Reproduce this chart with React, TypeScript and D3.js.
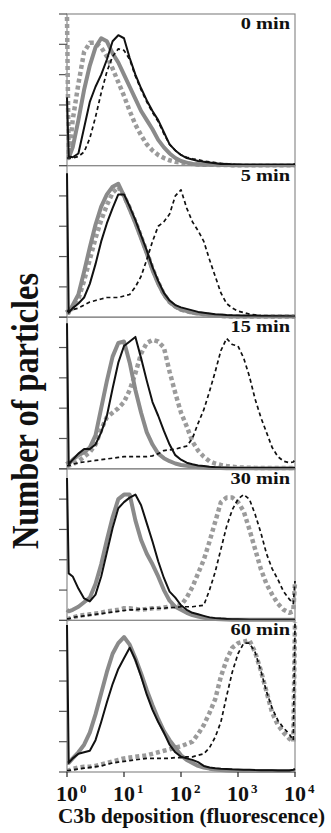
import React, { useEffect, useRef } from "react";
import * as d3 from "d3";

// log10 of fluorescence, sampled positions along the x axis
const logFluor = [0, 0.03, 0.1, 0.2, 0.3, 0.4, 0.5, 0.6, 0.7, 0.8, 0.9, 1.0, 1.1, 1.2, 1.3, 1.4, 1.5, 1.6, 1.7, 1.8, 1.9, 2.0, 2.1, 2.2, 2.3, 2.4, 2.5, 2.6, 2.7, 2.8, 2.9, 3.0, 3.1, 3.2, 3.3, 3.4, 3.5, 3.6, 3.7, 3.8, 3.9, 3.97, 4.0];

const panelLabels = ["0 min", "5 min", "15 min", "30 min", "60 min"];
const xTickExps = [0, 1, 2, 3, 4];
const yTicks = [0, 20, 40, 60, 80, 100];

// 0 min
const dotted0 = [98, 5, 30, 54, 75, 81, 81, 78, 72, 64, 55, 46, 36, 27, 20, 14, 10, 7, 5, 3.5, 2.5, 2, 1.5, 1, 0.8, 0.6, 0.5, 0.5, 0.4, 0.4, 0.3, 0.3, 0.3, 0.3, 0.3, 0.3, 0.3, 0.3, 0.3, 0.3, 0.3, 0.3, 0.3];
const grayLine0 = [5, 5, 12, 30, 50, 66, 78, 84, 82, 74, 68, 60, 52, 44, 36, 30, 24, 17, 12, 8, 5, 3, 2, 1, 0.8, 0.6, 0.5, 0.5, 0.4, 0.4, 0.3, 0.3, 0.3, 0.3, 0.3, 0.3, 0.3, 0.3, 0.3, 0.3, 0.3, 0.3, 0.3];
const blackLine0 = [45, 6, 5.5, 8, 25, 42, 52, 60, 70, 82, 86, 84, 71, 60, 51, 43, 36, 30, 22, 14, 10, 7, 5, 4, 3, 2.5, 2, 1.5, 1, 1, 0.8, 0.7, 0.6, 0.6, 0.5, 0.5, 0.5, 0.5, 0.5, 0.5, 0.5, 0.8, 1];
const dashed0 = [5, 5, 5, 6, 9, 18, 32, 48, 62, 72, 77, 76, 70, 59, 50, 42, 35, 29, 21, 14, 10, 7, 5.5, 4.5, 4, 3, 2.5, 2, 1.5, 1, 1, 0.5, 0.5, 0.5, 0.5, 0.5, 0.5, 0.5, 0.5, 0.5, 0.5, 0.5, 0.5];

// 5 min
const dotted5 = [5, 3, 6, 12, 24, 38, 52, 64, 74, 82, 86, 80, 72, 63, 53, 43, 32, 23, 15, 10, 7, 5, 4, 3, 2.5, 2, 1.5, 1, 0.8, 0.6, 0.5, 0.5, 0.4, 0.4, 0.4, 0.4, 0.4, 0.4, 0.4, 0.4, 0.4, 0.4, 0.4];
const grayLine5 = [5, 3, 8, 15, 30, 46, 61, 73, 81, 86, 88, 80, 71, 62, 52, 42, 31, 22, 15, 10, 7, 5, 4, 3, 2.5, 2, 1.5, 1, 0.8, 0.6, 0.5, 0.5, 0.4, 0.4, 0.4, 0.4, 0.4, 0.4, 0.4, 0.4, 0.4, 0.4, 0.4];
const blackLine5 = [95, 3, 6, 9, 13, 22, 35, 50, 62, 72, 81, 81, 73, 64, 54, 44, 33, 24, 16, 11, 8, 6.5, 5.5, 4.5, 3.5, 3, 2.5, 2, 1.8, 1.5, 1.3, 1.2, 1, 1, 0.9, 0.8, 0.8, 0.7, 0.6, 0.6, 0.5, 0.5, 0.5];
const dashed5 = [4, 4, 5, 6, 8, 10, 11, 12, 13, 13, 13, 14, 15, 20, 27, 38, 50, 60, 63, 68, 80, 84, 72, 63, 57, 50, 38, 27, 16, 9, 6, 4, 3, 2, 1.5, 1, 0.8, 0.6, 0.5, 0.5, 0.5, 0.5, 0.5];

// 15 min
const dotted15 = [2, 2, 3, 5, 8, 11, 16, 26, 34, 37, 40, 44, 52, 63, 76, 83, 85, 84, 80, 64, 50, 37, 28, 18, 12, 8, 5, 3.5, 2.5, 1.8, 1.3, 1, 0.8, 0.7, 0.6, 0.5, 0.5, 0.5, 0.5, 0.5, 0.5, 0.5, 0.5];
const grayLine15 = [5, 3, 6, 9, 11, 14, 22, 40, 58, 74, 83, 84, 70, 52, 37, 24, 16, 10, 7, 5, 3.5, 2.5, 2, 1.5, 1, 0.8, 0.6, 0.5, 0.5, 0.4, 0.4, 0.4, 0.4, 0.4, 0.4, 0.4, 0.4, 0.4, 0.4, 0.4, 0.4, 0.4, 0.4];
const blackLine15 = [96, 3, 6, 10, 13, 13, 16, 24, 35, 53, 70, 81, 84, 87, 73, 58, 44, 35, 25, 16, 9, 6, 4, 3, 2.2, 1.8, 1.3, 1, 0.8, 0.7, 0.6, 0.5, 0.5, 0.5, 0.5, 0.5, 0.5, 0.5, 0.5, 0.5, 0.5, 0.5, 0.5];
const dashed15 = [2, 2, 3, 4, 4.5, 5, 5.5, 6, 6.5, 7, 7.5, 8, 8, 8, 8, 8, 8.5, 10, 12, 12.5, 13, 14, 15, 20, 30, 39, 51, 64, 78, 86, 82, 81, 73, 61, 46, 34, 24, 14, 8, 5, 4, 4.5, 6];

// 30 min
const dotted30 = [1, 1, 2, 3, 3.5, 4, 4.5, 5, 6, 6.5, 7, 8, 8, 7.5, 7, 7.5, 8, 8, 8.5, 9, 9.5, 10, 15, 22, 31, 40, 52, 65, 78, 81, 81, 78, 72, 60, 47, 34, 24, 17, 11, 7, 5, 6, 25];
const grayLine30 = [7, 6, 7, 9, 12, 15, 24, 37, 53, 68, 80, 83, 83, 66, 53, 44, 37, 29, 20, 13, 9, 7, 5, 3.5, 2.5, 1.8, 1.2, 1, 0.8, 0.6, 0.5, 0.5, 0.4, 0.4, 0.4, 0.4, 0.4, 0.4, 0.4, 0.4, 0.4, 0.4, 0.4];
const blackLine30 = [94, 31, 29, 21, 14.5, 12.5, 17, 29, 45, 61, 74, 78, 81, 83, 76, 64, 52, 39, 28, 19, 15, 10, 7, 5, 4, 3, 2, 1.5, 1.2, 1, 0.8, 0.7, 0.6, 0.5, 0.5, 0.5, 0.5, 0.5, 0.5, 0.5, 0.5, 0.5, 0.5];
const dashed30 = [1, 1, 2, 2.5, 3, 3.5, 4, 4.5, 5, 5.5, 6, 6.5, 7, 7, 7.5, 7.5, 8, 8, 8, 8.5, 8.5, 9, 9, 9, 9.5, 10, 20, 32, 47, 62, 73, 80, 83, 80, 70, 58, 44, 34, 27, 19, 14, 11, 26];

// 60 min
const dotted60 = [1, 1, 2, 3, 3.5, 3.5, 4, 5, 6, 7, 8, 9, 9.5, 10, 10.5, 11, 12, 13, 14, 15, 16, 17, 18.5, 20, 25, 31, 39, 48, 63, 74, 82, 85, 86, 87, 79, 67, 53, 39, 31, 26, 22, 20, 99];
const grayLine60 = [6, 6, 9, 13, 18, 26, 38, 52, 66, 78, 85, 89, 84, 75, 65, 54, 44, 35, 27, 21, 16, 11, 8, 6, 4, 3, 2.2, 1.7, 1.3, 1, 0.8, 0.7, 0.6, 0.6, 0.6, 0.6, 0.6, 0.6, 0.6, 0.6, 0.6, 0.6, 0.6];
const blackLine60 = [97, 6, 9, 12, 13, 14, 21, 33, 46, 58, 68, 75, 82, 74, 63, 51, 41, 33, 26, 18, 13, 10, 9, 8, 6.5, 4, 3, 2.5, 2.2, 2, 1.8, 1.7, 1.5, 1.5, 1.3, 1.2, 1.2, 1.1, 1, 1, 1, 1.5, 2];
const dashed60 = [1, 1, 1.5, 2, 2.5, 3, 3.5, 4, 5, 6, 6.5, 7, 7.5, 8, 8.5, 9, 9, 9, 9, 9, 9.5, 9.5, 10, 10, 11, 12, 16, 23, 33, 50, 66, 78, 85, 85, 79, 67, 53, 42, 34, 29, 25, 21, 98];

const panels = [
  [dotted0, grayLine0, blackLine0, dashed0],
  [dotted5, grayLine5, blackLine5, dashed5],
  [dotted15, grayLine15, blackLine15, dashed15],
  [dotted30, grayLine30, blackLine30, dashed30],
  [dotted60, grayLine60, blackLine60, dashed60],
];

// stroke styles in the same order as the series inside each panel
const seriesStyles = [
  { color: "#9b9b9b", width: 4.5, dash: "4,3" },
  { color: "#8a8a8a", width: 4, dash: null },
  { color: "#111", width: 2, dash: null },
  { color: "#111", width: 1.7, dash: "4,3" },
];

const App = () => {
  const svgRef = useRef<SVGSVGElement>(null);
  const width = 331;
  const height = 833;
  const left = 67;
  const right = 295;
  const top = 14;
  const panelH = 151.6;

  useEffect(() => {
    const svg = d3.select(svgRef.current).attr("width", width).attr("height", height);
    svg.selectAll("*").remove();

    const font = "'Liberation Serif', 'Times New Roman', serif";

    const xScale = d3.scaleLog().domain([1, 10000]).range([left, right]);

    panels.forEach((series, i) => {
      const y0 = top + i * panelH;
      const yScale = d3.scaleLinear().domain([0, 100]).range([y0 + panelH, y0]);
      const g = svg.append("g");

      // panel frame
      g.append("rect")
        .attr("x", left)
        .attr("y", y0)
        .attr("width", right - left)
        .attr("height", panelH)
        .attr("fill", "none")
        .attr("stroke", "#8c8c8c")
        .attr("stroke-width", 1.2);

      // left ticks
      g.selectAll(".ytick")
        .data(yTicks)
        .enter()
        .append("line")
        .attr("x1", left - 8)
        .attr("x2", left)
        .attr("y1", (d) => yScale(d))
        .attr("y2", (d) => yScale(d))
        .attr("stroke", "#555")
        .attr("stroke-width", 1.2);

      const line = d3
        .line<number>()
        .x((_, k) => xScale(Math.pow(10, logFluor[k])))
        .y((d) => yScale(d));

      series.forEach((vals, s) => {
        const st = seriesStyles[s];
        const p = g
          .append("path")
          .attr("d", line(vals))
          .attr("fill", "none")
          .attr("stroke", st.color)
          .attr("stroke-width", st.width)
          .attr("stroke-linejoin", "round");
        if (st.dash) p.attr("stroke-dasharray", st.dash);
      });

      g.append("text")
        .attr("transform", `translate(${right - 5},${y0 + 15}) scale(1.2,1)`)
        .attr("text-anchor", "end")
        .attr("font-family", font)
        .attr("font-weight", "bold")
        .attr("font-size", 17)
        .attr("fill", "#111")
        .text(panelLabels[i]);
    });

    const bottom = top + panels.length * panelH;

    // x ticks
    svg
      .selectAll(".xtick")
      .data(xTickExps)
      .enter()
      .append("line")
      .attr("x1", (d) => xScale(Math.pow(10, d)))
      .attr("x2", (d) => xScale(Math.pow(10, d)))
      .attr("y1", bottom)
      .attr("y2", bottom + 5)
      .attr("stroke", "#333")
      .attr("stroke-width", 1.3);

    // tick labels: "10" with the exponent raised in the same text
    const lab = svg
      .selectAll(".xlab")
      .data(xTickExps)
      .enter()
      .append("text")
      .attr("x", (d) => xScale(Math.pow(10, d)) - 11)
      .attr("y", bottom + 28.5)
      .attr("font-family", font)
      .attr("font-weight", "bold")
      .attr("font-size", 22)
      .attr("fill", "#111");
    lab.append("tspan").text("10");
    lab
      .append("tspan")
      .attr("dx", 2)
      .attr("dy", -8)
      .attr("font-size", 13)
      .text((d) => String(d));

    svg
      .append("text")
      .attr("x", 191.5)
      .attr("y", 823)
      .attr("text-anchor", "middle")
      .attr("font-family", font)
      .attr("font-weight", "bold")
      .attr("font-size", 20)
      .attr("textLength", 267)
      .attr("lengthAdjust", "spacingAndGlyphs")
      .attr("fill", "#111")
      .text("C3b deposition (fluorescence)");

    svg
      .append("text")
      .attr("transform", "translate(38,411) rotate(-90)")
      .attr("text-anchor", "middle")
      .attr("font-family", font)
      .attr("font-weight", "bold")
      .attr("font-size", 37)
      .attr("textLength", 276)
      .attr("lengthAdjust", "spacingAndGlyphs")
      .attr("fill", "#111")
      .text("Number of particles");
  }, []);

  return (
    <svg
      ref={svgRef}
      style={{ position: "absolute", left: 0, top: 0, background: "#fff" }}
    ></svg>
  );
};

export default App;
